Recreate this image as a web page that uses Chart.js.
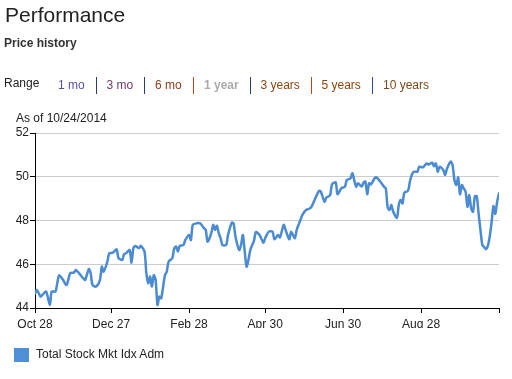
<!DOCTYPE html>
<html>
<head>
<meta charset="utf-8">
<script src="https://cdn.jsdelivr.net/npm/chart.js@4/dist/chart.umd.min.js"></script>
<style>
  html, body { margin: 0; padding: 0; background: #fff; }
  body { width: 512px; height: 379px; position: relative; overflow: hidden;
         font-family: "Liberation Sans", Arial, Helvetica, sans-serif; color: #222; }
  #wrap { position: absolute; left: 0; top: 0; width: 512px; height: 379px; }
  .t { position: absolute; white-space: nowrap; line-height: 1; }
  .sep { position: absolute; top: 77px; width: 1px; height: 17px; }
</style>
</head>
<body>
<div id="wrap"><canvas id="c" width="512" height="379"></canvas></div>
<div class="t" style="left:5px; top:4px; font-size:21px; color:#222;">Performance</div>
<div class="t" style="left:4px; top:37px; font-size:12px; font-weight:bold; color:#333;">Price history</div>
<div class="t" style="left:4px; top:77px; font-size:12px; color:#222;">Range</div>
<div id="range"></div>
<div class="t" style="left:16px; top:111.5px; font-size:12px; color:#222;">As of 10/24/2014</div>
<div style="position:absolute; left:14px; top:348px; width:15px; height:14px; background:#4f8fd5;"></div>
<div class="t" style="left:36px; top:348px; font-size:12px; color:#222;">Total Stock Mkt Idx Adm</div>
<script>
// ---- Data (trading-day index since Oct 28, 2013; price in USD) ----
const tradingDay = [0,1,3,4,6,8,9,11,12,13,15,17,19,21,22,24,26,27,29,30,31,33,35,36,37,39,40,42,44,45,47,48,49,51,52,53,54,56,57,59,60,61,62,63,64,65,66,67,68,70,71,72,74,75,76,77,78,80,81,83,84,85,87,89,91,92,93,95,96,97,98,99,100,101,103,104,106,107,108,110,111,112,113,114,115,116,118,119,121,123,124,126,128,129,131,132,134,135,137,138,140,141,143,144,146,148,149,151,153,154,156,157,159,160,162,163,165,167,168,170,171,172,173,174,176,177,178,179,180,181,183,184,186,188,189,190,191,192,193,195,196,197,198,199,201,202,203,204,206,207,209,211,212,214,215,216,217,218,220,221,222,224,225,226,227,228,229,230,231,232,233,234,235,236,237,238,239,240,241,242,243,244,245,246,247,248,249,250];
const price = [44.67,44.82,44.52,44.6,44.75,44.14,44.75,44.75,45.13,45.5,
  45.3,45.05,45.59,45.62,45.74,45.56,45.36,45.28,45.78,45.59,
  45.05,44.98,45.28,45.89,45.66,46.12,46.5,46.53,46.68,46.28,
  46.2,46.46,46.5,46.65,46.07,46.73,46.84,46.73,46.84,46.58,
  45.59,45.13,45.44,44.98,45.5,45.28,44.14,44.52,44.44,45.5,
  45.66,46.12,46.28,46.73,46.81,46.58,46.84,46.88,47.11,47.34,
  47.11,47.8,47.87,47.87,47.65,47.57,47.03,47.42,47.8,47.57,
  47.76,47.42,47.19,46.88,46.88,47.34,47.9,47.87,47.27,46.65,
  46.88,47.34,46.58,45.89,46.2,46.65,47.08,47.47,47.34,46.99,
  47.19,47.49,47.49,47.14,47.34,47.23,47.8,47.57,47.14,47.49,
  47.19,47.57,48.02,48.25,48.48,48.55,48.63,49.01,49.35,49.32,
  48.86,49.05,49.16,49.65,49.74,49.2,49.47,49.55,49.85,49.93,
  50.16,49.85,49.55,49.7,49.55,49.73,49.78,49.2,49.7,49.65,
  49.93,49.97,49.78,49.55,49.47,48.6,48.48,48.71,48.4,48.13,
  48.71,48.94,48.78,49.27,49.36,49.78,50.08,50.23,50.23,50.46,
  50.43,50.61,50.56,50.64,50.48,50.61,50.23,50.46,50.3,50.08,
  50.38,50.69,50.53,49.85,49.62,49.97,49.2,49.62,49.47,49.32,
  48.63,49.16,48.55,48.4,49.11,49.11,48.32,47.57,46.88,46.78,
  46.69,46.84,47.27,47.9,48.66,48.3,48.86,49.24];
const xTickDays = [0, 41, 83, 124, 166, 208, 250];
const xTickLabels = ['Oct 28', 'Dec 27', 'Feb 28', 'Apr 30', 'Jun 30', 'Aug 28', ''];
const yTicks = [44, 46, 48, 50, 52];
const seriesName = 'Total Stock Mkt Idx Adm';
const rangeLabels = ['1 mo', '3 mo', '6 mo', '1 year', '3 years', '5 years', '10 years'];

// ---- Range selector (HTML text) ----
const rangeLeft = [58, 106.5, 155, 204, 260.5, 321.5, 383];
const rangeColor = ['#5a4fa0', '#6a3c6a', '#8c3b1e', '#aaaaaa', '#8a4510', '#8a4510', '#7b4a1a'];
const sepLeft = [96, 144, 193, 250, 310.5, 372];
const sepColor = ['#2c3e6e', '#2c3e6e', '#b04a20', '#2c3e6e', '#b04a20', '#3344aa'];
const rangeDiv = document.getElementById('range');
rangeLabels.forEach((lab, i) => {
  const d = document.createElement('div');
  d.className = 't';
  d.style.cssText = `left:${rangeLeft[i]}px; top:78.5px; font-size:12px; color:${rangeColor[i]};` + (i === 3 ? 'font-weight:bold;' : '');
  d.textContent = lab;
  rangeDiv.appendChild(d);
});
sepLeft.forEach((x, i) => {
  const s = document.createElement('div');
  s.className = 'sep';
  s.style.left = x + 'px';
  s.style.background = sepColor[i];
  rangeDiv.appendChild(s);
});

// ---- Chart ----
const points = tradingDay.map((d, i) => ({ x: d, y: price[i] }));
new Chart(document.getElementById('c'), {
  type: 'line',
  data: {
    datasets: [{
      label: seriesName,
      data: points,
      borderColor: '#4a8bd1',
      borderWidth: 2.5,
      borderJoinStyle: 'round',
      borderCapStyle: 'round',
      pointRadius: 0,
      tension: 0.25,
      fill: false
    }]
  },
  options: {
    responsive: false,
    animation: false,
    events: [],
    layout: { padding: { left: 0, top: 133, right: 13, bottom: 51 } },
    plugins: { legend: { display: false }, tooltip: { enabled: false }, title: { display: false } },
    scales: {
      x: {
        type: 'linear',
        min: 0, max: 250,
        afterFit: (s) => { s.height = 20; },
        afterBuildTicks: (s) => { s.ticks = xTickDays.map(v => ({ value: v })); },
        ticks: {
          autoSkip: false, maxRotation: 0, padding: 4,
          color: '#222',
          font: { family: '"Liberation Sans", Arial, sans-serif', size: 12 },
          callback: (v, i) => xTickLabels[i]
        },
        grid: { drawOnChartArea: false, drawTicks: true, tickLength: 5, tickColor: '#000', color: '#000' },
        border: { display: true, color: '#000', width: 1 }
      },
      y: {
        min: 44, max: 52,
        afterFit: (s) => { s.width = 35; },
        afterBuildTicks: (s) => { s.ticks = yTicks.map(v => ({ value: v })); },
        ticks: {
          padding: 1,
          color: '#222',
          font: { family: '"Liberation Sans", Arial, sans-serif', size: 12 }
        },
        grid: {
          drawTicks: true, tickLength: 5, tickColor: '#000',
          color: (ctx) => (ctx.tick && ctx.tick.value === 44) ? '#000' : '#cccccc'
        },
        border: { display: true, color: '#000', width: 1 }
      }
    }
  }
});
</script>
</body>
</html>
